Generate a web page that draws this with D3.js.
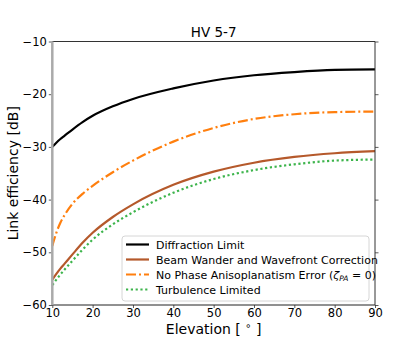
<!DOCTYPE html>
<html lang="en">
<head>
  <meta charset="UTF-8" />
  <title>HV 5-7</title>
  <script src="https://cdn.jsdelivr.net/npm/d3@7"></script>
  <style>
  body { margin: 0; background: #fff; }
  text { font-family: "DejaVu Sans", sans-serif; fill: #000; }
  </style>
</head>
<body>
<script>
// elevation (deg) and link efficiency (dB)
var elevation = [10, 11, 12, 13, 15, 17.5, 20, 25, 30, 40, 50, 60, 70, 80, 90];
var diffraction = [-30.0, -29.2, -28.5, -27.9, -26.7, -25.3, -24.1, -22.3, -20.9, -18.9, -17.4, -16.4, -15.8, -15.4, -15.3];
var beamWander = [-55.2, -54.1, -53.1, -52.2, -50.4, -48.2, -46.3, -43.3, -40.9, -37.2, -34.7, -33.0, -31.9, -31.2, -30.8];
var noPhase = [-48.8, -46.3, -44.4, -43.0, -40.8, -38.9, -37.4, -34.8, -32.6, -29.0, -26.4, -24.7, -23.8, -23.4, -23.3];
var turbulence = [-56.2, -55.2, -54.2, -53.3, -51.6, -49.5, -47.6, -44.7, -42.4, -38.7, -36.1, -34.4, -33.3, -32.6, -32.4];
var xTicks = [10, 20, 30, 40, 50, 60, 70, 80, 90];
var yTicks = [-60, -50, -40, -30, -20, -10];

var w = 416, h = 343;
var margin = {top: 41.5, right: 41, bottom: 38, left: 52.3};

var svg = d3.select("body").append("svg")
  .attr("width", w)
  .attr("height", h);

var x = d3.scaleLinear().domain([10, 90]).range([margin.left, w - margin.right]);
var y = d3.scaleLinear().domain([-60, -10]).range([h - margin.bottom, margin.top]);

var series = [
  {name: "Diffraction Limit", values: diffraction, color: "#000000", dash: null, width: 2.2},
  {name: "Beam Wander and Wavefront Correction", values: beamWander, color: "#b5592b", dash: null, width: 2.2},
  {name: "No Phase", values: noPhase, color: "#ff7f0e", dash: "10,3,2,3", width: 2.2},
  {name: "Turbulence Limited", values: turbulence, color: "#3cb44b", dash: "2.2,2.6", width: 2.2}
];

var line = d3.line()
  .x(function(d) { return x(d[0]); })
  .y(function(d) { return y(d[1]); })
  .curve(d3.curveMonotoneX);

var plot = svg.append("g");
plot.selectAll("path")
  .data(series)
  .enter()
  .append("path")
    .attr("fill", "none")
    .attr("stroke", function(d) { return d.color; })
    .attr("stroke-width", function(d) { return d.width; })
    .attr("stroke-dasharray", function(d) { return d.dash; })
    .attr("d", function(d) { return line(elevation.map(function(e, i) { return [e, d.values[i]]; })); });

// axes
var xAxis = svg.append("g")
  .attr("transform", "translate(0," + y(-60) + ")")
  .call(d3.axisBottom(x).tickValues(xTicks).tickSize(3).tickPadding(1));
var yAxis = svg.append("g")
  .attr("transform", "translate(" + x(10) + ",0)")
  .call(d3.axisLeft(y).tickValues(yTicks).tickSize(3.5).tickPadding(2)
    .tickFormat(function(d) { return String(d).replace("-", "\u2212"); }));
var yRight = svg.append("g")
  .attr("transform", "translate(" + x(90) + ",0)")
  .call(d3.axisRight(y).tickValues(yTicks).tickSize(3.5).tickFormat(""));

[xAxis, yAxis, yRight].forEach(function(a) {
  a.select(".domain").remove();
  a.selectAll("line").attr("stroke", "#333").attr("stroke-width", 0.8);
  a.selectAll("text").style("font-size", "11.5px").attr("fill", "#000");
});

// spines
svg.append("line").attr("x1", x(10)).attr("x2", x(90)).attr("y1", y(-10)).attr("y2", y(-10))
  .attr("stroke", "#333").attr("stroke-width", 1);
svg.append("line").attr("x1", x(10)).attr("x2", x(90)).attr("y1", y(-60)).attr("y2", y(-60))
  .attr("stroke", "#222").attr("stroke-width", 1);
svg.append("line").attr("x1", x(90)).attr("x2", x(90)).attr("y1", y(-10)).attr("y2", y(-60))
  .attr("stroke", "#333").attr("stroke-width", 1);
svg.append("line").attr("x1", x(10)).attr("x2", x(10)).attr("y1", y(-10)).attr("y2", y(-60))
  .attr("stroke", "#aaa").attr("stroke-width", 2.5);

// title and axis labels
svg.append("text")
  .attr("x", (x(10) + x(90)) / 2).attr("y", 37)
  .attr("text-anchor", "middle")
  .style("font-size", "13.5px")
  .text("HV 5-7");

var xl = svg.append("text")
  .attr("x", (x(10) + x(90)) / 2).attr("y", 334)
  .attr("text-anchor", "middle")
  .style("font-size", "14px");
xl.append("tspan").text("Elevation [ ");
xl.append("tspan").attr("dy", -5).style("font-size", "10px").text("\u2218");
xl.append("tspan").attr("dy", 5).text(" ]");

svg.append("text")
  .attr("transform", "translate(18," + (y(-35)) + ") rotate(-90)")
  .attr("text-anchor", "middle")
  .style("font-size", "14px")
  .text("Link efficiency [dB]");

// legend
var lg = svg.append("g").attr("transform", "translate(122,236)");
lg.append("rect")
  .attr("width", 247).attr("height", 65)
  .attr("rx", 3)
  .attr("fill", "#fff").attr("fill-opacity", 0.85)
  .attr("stroke", "#ccc").attr("stroke-width", 0.8);

var item = lg.selectAll("g.item")
  .data(series)
  .enter()
  .append("g")
    .attr("class", "item")
    .attr("transform", function(d, i) { return "translate(0," + (8.5 + i * 15) + ")"; });
item.append("line")
  .attr("x1", 4).attr("x2", 27)
  .attr("stroke", function(d) { return d.color; })
  .attr("stroke-width", function(d) { return d.width; })
  .attr("stroke-dasharray", function(d) { return d.dash; });
var lt = item.append("text")
  .attr("x", 34).attr("y", 4)
  .style("font-size", "11px");
lt.filter(function(d, i) { return i !== 2; }).text(function(d) { return d.name; });
var np = lt.filter(function(d, i) { return i === 2; });
np.append("tspan").text("No Phase Anisoplanatism Error (");
np.append("tspan").style("font-style", "italic").text("\u03b6");
np.append("tspan").attr("dy", 2.5).style("font-size", "7.5px").style("font-style", "italic").text("PA");
np.append("tspan").attr("dy", -2.5).text(" = 0)");
</script>
</body>
</html>
